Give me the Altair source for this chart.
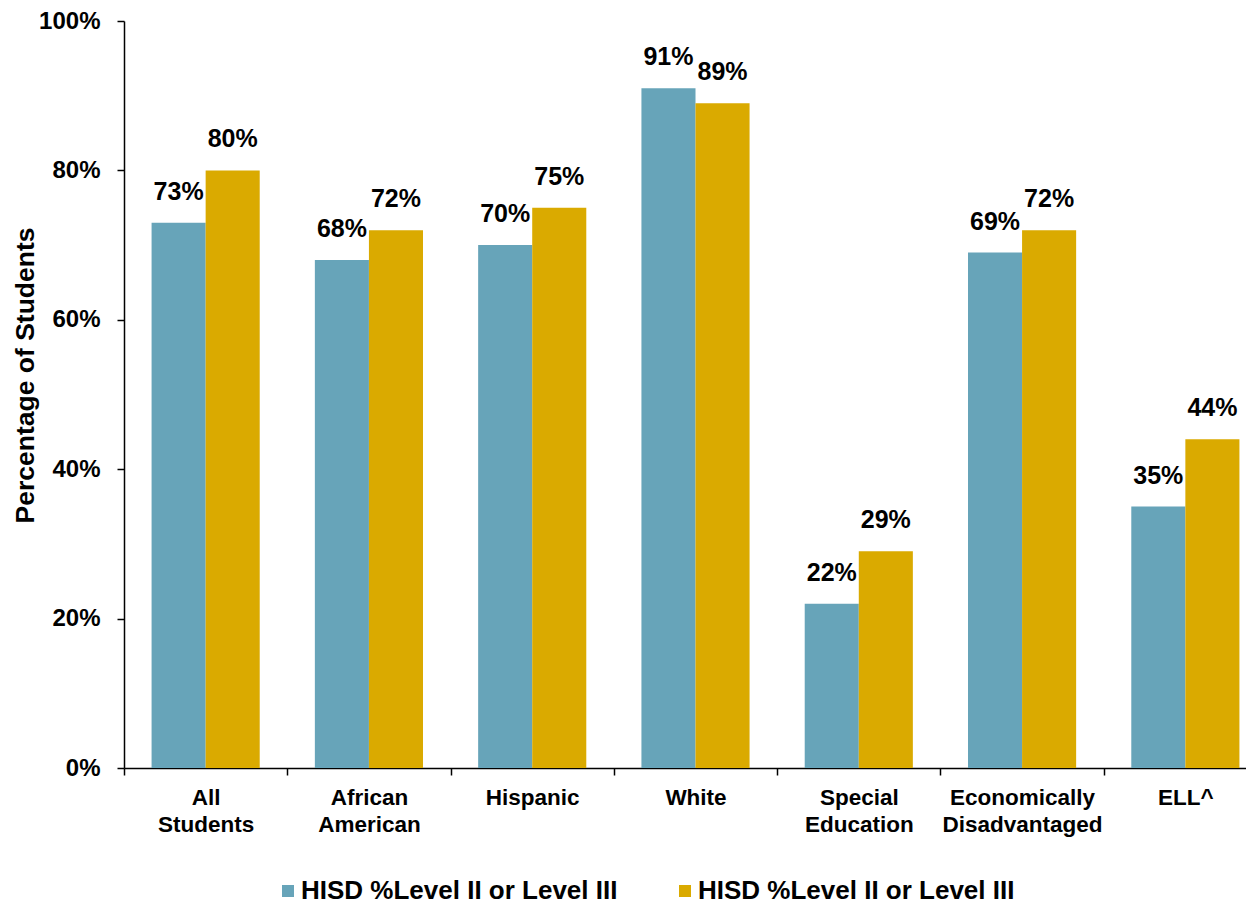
import altair as alt
import pandas as pd

categories = ["All Students", "African American", "Hispanic", "White",
              "Special Education", "Economically Disadvantaged", "ELL^"]
series_keys = ["s1", "s2"]
series_labels = ["HISD %Level II or Level III", "HISD %Level II or Level III"]
series1_values = [73, 68, 70, 91, 22, 69, 35]
series2_values = [80, 72, 75, 89, 29, 72, 44]
y_ticks = [0, 20, 40, 60, 80, 100]
colors = ["#67A4B9", "#DAAA00"]

rows = []
for c, a, b in zip(categories, series1_values, series2_values):
    rows.append({"cat": c, "series": series_keys[0], "value": a})
    rows.append({"cat": c, "series": series_keys[1], "value": b})
df = pd.DataFrame(rows)

FONT = "Liberation Sans"

label_expr = "datum.value == '%s' ? '%s' : '%s'" % (
    series_keys[0], series_labels[0], series_labels[1])

x_enc = alt.X("cat:N", sort=categories,
              scale=alt.Scale(range=[0, 1143], paddingInner=0, paddingOuter=0),
              axis=alt.Axis(title=None, labelAngle=0, tickBand="extent",
                            labelExpr="isValid(datum.value) ? split(datum.value, ' ') : ''",
                            labelFontSize=22.5, labelLineHeight=27,
                            labelPadding=11, tickSize=7))
xoff = alt.XOffset("series:N", sort=series_keys,
                   scale=alt.Scale(paddingInner=0, paddingOuter=0.51))
y_enc = alt.Y("value:Q", scale=alt.Scale(domain=[0, 100], nice=False),
              axis=alt.Axis(values=y_ticks, labelExpr="datum.value + '%'",
                            title="Percentage of Students", grid=False,
                            tickSize=7, labelPadding=17, labelFontSize=24,
                            titleFontSize=26.5, titleAngle=270, titleX=-91,
                            titleY=354, titleAlign="center",
                            titleBaseline="alphabetic"))

bars = alt.Chart(df).mark_bar().encode(
    x=x_enc, xOffset=xoff, y=y_enc,
    color=alt.Color("series:N", sort=series_keys,
                    scale=alt.Scale(domain=series_keys, range=colors),
                    legend=alt.Legend(title=None, orient="none", direction="horizontal",
                                      legendX=151, legendY=857, labelExpr=label_expr,
                                      labelFontSize=26, labelFont=FONT,
                                      labelFontWeight="bold", labelColor="black",
                                      symbolType="square", symbolSize=144,
                                      symbolStrokeWidth=0, labelOffset=0,
                                      columnPadding=54, padding=0,
                                      labelLimit=600)),
)

text = alt.Chart(df).transform_calculate(
    lbl="datum.value + '%'"
).mark_text(baseline="alphabetic", align="center", dy=-23, fontSize=25,
            font=FONT, fontWeight="bold", color="black").encode(
    x=alt.X("cat:N", sort=categories), xOffset=alt.XOffset("series:N", sort=series_keys),
    y="value:Q", text="lbl:N",
)

chart = alt.layer(bars, text).properties(
    width=1122, height=747,
    autosize=alt.AutoSizeParams(type="none"),
    padding={"left": 116, "top": 13, "right": 0, "bottom": 138},
).configure_view(stroke=None).configure_axis(
    labelFont=FONT, labelFontWeight="bold", labelColor="black",
    titleFont=FONT, titleFontWeight="bold", titleColor="black",
    domainColor="black", tickColor="black", domainWidth=1.5, tickWidth=1.5,
)

chart.save("out.html", embed_options={"renderer": "svg", "actions": False})
